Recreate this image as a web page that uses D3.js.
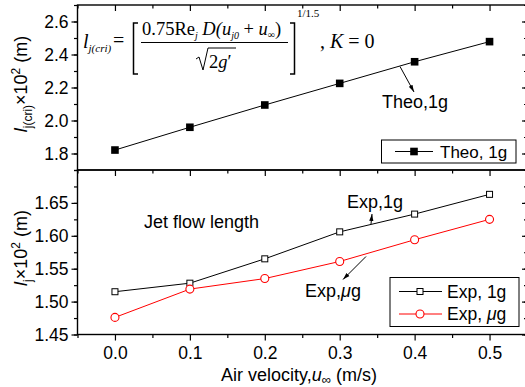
<!DOCTYPE html>
<html><head><meta charset="utf-8">
<script src="https://cdn.jsdelivr.net/npm/d3@7"></script>
<style>body{margin:0;background:#fff}svg{display:block}text{font-family:"Liberation Sans",Arial,sans-serif}</style>
</head><body><svg id="c" width="525" height="387"></svg>
<script>
const xVals = [0.0, 0.1, 0.2, 0.3, 0.4, 0.5];
const theo1g = [1.821, 1.959, 2.094, 2.225, 2.356, 2.478];
const exp1g = [1.515, 1.528, 1.565, 1.606, 1.633, 1.663];
const expMug = [1.476, 1.519, 1.535, 1.561, 1.594, 1.625];
const xTicks = [0.0, 0.1, 0.2, 0.3, 0.4, 0.5];
const topTicks = [1.8, 2.0, 2.2, 2.4, 2.6];
const botTicks = [1.45, 1.50, 1.55, 1.60, 1.65];

const svg = d3.select("#c");
const L = 77.5, R = 527, T1 = 5, B1 = 170, T2 = 170, B2 = 334.5;
const x = d3.scaleLinear().domain([-0.05, 0.55]).range([L, R]);
const yT = d3.scaleLinear().domain([1.7, 2.7]).range([B1, T1]);
const yB = d3.scaleLinear().domain([1.45, 1.70]).range([B2, T2]);

svg.append("defs").append("marker").attr("id","ah").attr("viewBox","0 0 10 10")
  .attr("refX",10).attr("refY",5).attr("markerWidth",7).attr("markerHeight",7).attr("orient","auto")
  .append("path").attr("d","M0,2 L10,5 L0,8 Z").attr("fill","#000");

function frame(y, top, bot, ticks, minorStep, fmt) {
  const g = svg.append("g");
  g.append("rect").attr("x",L).attr("y",top).attr("width",R-L).attr("height",bot-top)
    .attr("fill","none").attr("stroke","#000").attr("stroke-width",1.4);
  const d = y.domain();
  const minors = d3.range(Math.ceil(d[0]/minorStep-1e-6)*minorStep, d[1]+1e-9, minorStep);
  g.append("g").attr("transform",`translate(${L},0)`)
    .call(d3.axisLeft(y).tickValues(minors).tickSize(3.5).tickFormat(""))
    .call(s=>s.select(".domain").remove());
  g.append("g").attr("transform",`translate(${L},0)`)
    .call(d3.axisLeft(y).tickValues(ticks).tickSize(6).tickPadding(3).tickFormat(fmt))
    .call(s=>s.select(".domain").remove())
    .call(s=>s.selectAll("text").attr("font-size",17.5).attr("fill","#000"));
  g.append("g").attr("transform",`translate(${R},0)`)
    .call(d3.axisLeft(y).tickValues(minors).tickSize(3).tickFormat(""))
    .call(s=>s.select(".domain").remove());
  g.append("g").attr("transform",`translate(${R},0)`)
    .call(d3.axisLeft(y).tickValues(ticks).tickSize(5).tickFormat(""))
    .call(s=>s.select(".domain").remove());
  g.selectAll("line").attr("stroke","#000").attr("stroke-width",1.2);
}
frame(yT, T1, B1, topTicks, 0.1, d3.format(".1f"));
frame(yB, T2, B2, botTicks, 0.025, d3.format(".2f"));

const xMinor = d3.range(-0.05, 0.551, 0.05).filter(v=>Math.abs(Math.round(v*10)-v*10)>1e-6);
function xAxis(yPos, labels) {
  svg.append("g").attr("transform",`translate(0,${yPos})`)
    .call(d3.axisBottom(x).tickValues(xMinor).tickSize(3.5).tickFormat(""))
    .call(s=>s.select(".domain").remove());
  svg.append("g").attr("transform",`translate(0,${yPos})`)
    .call(d3.axisBottom(x).tickValues(xTicks).tickSize(6).tickPadding(6).tickFormat(labels?d3.format(".1f"):""))
    .call(s=>s.select(".domain").remove())
    .call(s=>s.selectAll("text").attr("font-size",17.5).attr("fill","#000"));
  svg.selectAll("line").attr("stroke","#000").attr("stroke-width",1.2);
}
xAxis(T1, false);
xAxis(B1, false);
xAxis(B2, true);

function series(y, vals, color, shape) {
  const pts = xVals.map((v,i)=>[x(v), y(vals[i])]);
  svg.append("path").attr("d", d3.line()(pts)).attr("fill","none").attr("stroke",color).attr("stroke-width",1);
  pts.forEach(p=>drawMarker(p[0],p[1],color,shape));
}
function drawMarker(cx, cy, color, shape) {
  if (shape==="fsq") svg.append("rect").attr("x",cx-3.8).attr("y",cy-3.8).attr("width",7.6).attr("height",7.6).attr("fill","#000");
  else if (shape==="osq") svg.append("rect").attr("x",cx-3).attr("y",cy-3).attr("width",6).attr("height",6).attr("fill","#fff").attr("stroke",color).attr("stroke-width",1);
  else svg.append("circle").attr("cx",cx).attr("cy",cy).attr("r",4).attr("fill","#fff").attr("stroke",color).attr("stroke-width",1.1);
}
series(yT, theo1g, "#000", "fsq");
series(yB, exp1g, "#000", "osq");
series(yB, expMug, "#ff0000", "circ");

// legends
svg.append("rect").attr("x",381.5).attr("y",140).attr("width",134.5).attr("height",23).attr("fill","#fff").attr("stroke","#000").attr("stroke-width",1);
svg.append("line").attr("x1",395).attr("x2",433).attr("y1",151.5).attr("y2",151.5).attr("stroke","#000");
drawMarker(414,151.5,"#000","fsq");
svg.append("text").attr("x",440).attr("y",157.5).attr("font-size",17).text("Theo, 1g");

svg.append("rect").attr("x",390).attr("y",277.5).attr("width",129).attr("height",49).attr("fill","#fff").attr("stroke","#000").attr("stroke-width",1);
svg.append("line").attr("x1",399).attr("x2",442).attr("y1",291.5).attr("y2",291.5).attr("stroke","#000");
drawMarker(420,291.5,"#000","osq");
svg.append("text").attr("x",447).attr("y",297.5).attr("font-size",17.5).text("Exp, 1g");
svg.append("line").attr("x1",399).attr("x2",442).attr("y1",314).attr("y2",314).attr("stroke","#ff0000");
drawMarker(420,314,"#ff0000","circ");
const t2 = svg.append("text").attr("x",447).attr("y",320).attr("font-size",17.5);
t2.append("tspan").text("Exp, ");
t2.append("tspan").attr("font-style","italic").text("μ");
t2.append("tspan").text("g");

// annotations
svg.append("text").attr("x",382).attr("y",108).attr("font-size",18).text("Theo,1g");
svg.append("line").attr("x1",400).attr("y1",66.5).attr("x2",414).attr("y2",92).attr("stroke","#000").attr("marker-end","url(#ah)");
svg.append("text").attr("x",347).attr("y",208).attr("font-size",18).text("Exp,1g");
svg.append("line").attr("x1",371).attr("y1",224).attr("x2",372).attr("y2",214).attr("stroke","#000").attr("marker-end","url(#ah)");
const t3 = svg.append("text").attr("x",305).attr("y",297).attr("font-size",18);
t3.append("tspan").text("Exp,");
t3.append("tspan").attr("font-style","italic").text("μ");
t3.append("tspan").text("g");
svg.append("line").attr("x1",366).attr("y1",256.5).attr("x2",343).attr("y2",279.5).attr("stroke","#000").attr("marker-end","url(#ah)");
svg.append("text").attr("x",144).attr("y",228).attr("font-size",18).text("Jet flow length");

// formula
const serif = '"Liberation Serif","Times New Roman",serif';
const fg = svg.append("g").attr("font-family",serif);
function ft(xp, yp, size, parts) {
  const t = fg.append("text").attr("x",xp).attr("y",yp).attr("font-size",size).style("font-family",serif);
  parts.forEach(p=>{
    const s = t.append("tspan").text(p[0]);
    if (p[1]) s.attr("font-style","italic");
    if (p[2]) s.attr("dy",p[2]);
    if (p[3]) s.attr("font-size",p[3]);
  });
  return t;
}
ft(83, 48, 20, [["l",true],["j(cri)",true,4,11]]);
ft(113, 47, 20, [["="]]);
fg.append("path").attr("d","M138,23 L133.5,23 L133.5,74 L138,74").attr("fill","none").attr("stroke","#000").attr("stroke-width",1.5);
fg.append("path").attr("d","M290,23 L294.5,23 L294.5,74 L290,74").attr("fill","none").attr("stroke","#000").attr("stroke-width",1.5);
ft(142, 35, 18.5, [["0.75"],["Re",false],["j",true,4,10],[" D(",true,-4],["u",true],["j0",true,4,10],[" + ",false,-4],["u",true],["∞",false,3,10],[")",false,-3]]);
fg.append("line").attr("x1",141).attr("x2",288).attr("y1",42.5).attr("y2",42.5).attr("stroke","#000").attr("stroke-width",1);
fg.append("path").attr("d","M196,59 L199,57 L203,70 L208,48 L236,48").attr("fill","none").attr("stroke","#000").attr("stroke-width",1);
ft(209, 68, 18.5, [["2"],["g",true],["′"]]);
ft(297, 17, 11, [["1/1.5"]]);
ft(320, 48, 20, [[", "],["K",true],[" = 0"]]);

// axis titles
const yl1 = svg.append("text").attr("transform","translate(27,84) rotate(-90)").attr("text-anchor","middle").attr("font-size",18);
yl1.append("tspan").attr("font-style","italic").text("l");
yl1.append("tspan").attr("font-size",12).attr("dy",5).text("j(cri)");
yl1.append("tspan").attr("dy",-5).text("×10");
yl1.append("tspan").attr("font-size",12).attr("dy",-7).text("2");
yl1.append("tspan").attr("dy",7).text(" (m)");

const yl2 = svg.append("text").attr("transform","translate(27,248) rotate(-90)").attr("text-anchor","middle").attr("font-size",18);
yl2.append("tspan").attr("font-style","italic").text("l");
yl2.append("tspan").attr("font-size",12).attr("dy",5).text("j");
yl2.append("tspan").attr("dy",-5).text("×10");
yl2.append("tspan").attr("font-size",12).attr("dy",-7).text("2");
yl2.append("tspan").attr("dy",7).text(" (m)");

const xl = svg.append("text").attr("x",299).attr("y",381).attr("text-anchor","middle").attr("font-size",18);
xl.append("tspan").text("Air velocity,");
xl.append("tspan").attr("font-style","italic").text("u");
xl.append("tspan").attr("font-size",13).attr("dy",3).text("∞");
xl.append("tspan").attr("dy",-3).text(" (m/s)");
</script></body></html>
